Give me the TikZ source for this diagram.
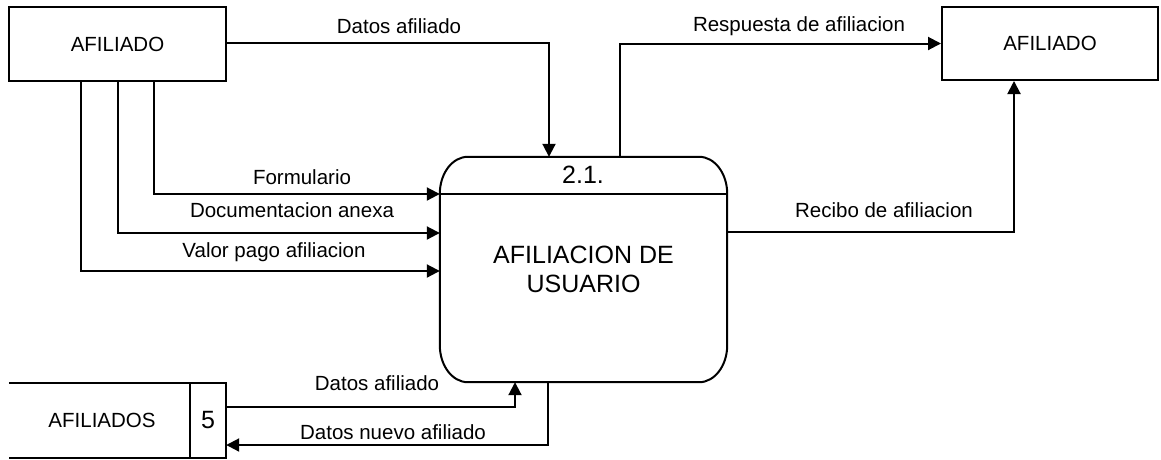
\documentclass[tikz,border=0pt]{standalone}
\usepackage{fontspec}
\setmainfont{Liberation Sans}
\usetikzlibrary{arrows.meta}
\tikzset{
  lbl/.style={inner sep=0pt, font=\fontsize{20.5}{24}\selectfont},
  entity/.style={draw, line width=2pt, inner sep=0pt, font=\fontsize{20.5}{24}\selectfont},
  procbox/.style={inner sep=0pt, align=center, font=\fontsize{25}{30}\selectfont},
  flow/.style={line width=2pt, -{Triangle[length=13pt,width=13pt]}},
  plain/.style={line width=2pt}
}
\begin{document}
\begin{tikzpicture}[x=1pt,y=-1pt]
\useasboundingbox (0,0) rectangle (1161,459);
% entities
\node[entity, minimum width=217pt, minimum height=74pt] (a1) at (117.5,44) {AFILIADO};
\node[entity, minimum width=216pt, minimum height=73pt] (a2) at (1050,43.5) {AFILIADO};
% process
\node[procbox, minimum width=287pt, minimum height=225pt] (proc) at (583.5,269.5) {AFILIACION DE\\[-1pt]USUARIO};
\draw[plain] ([xshift=28pt]proc.north west) -- ([xshift=-28pt]proc.north east)
  arc[start angle=90, end angle=0, x radius=28pt, y radius=37pt]
  -- ([yshift=37pt]proc.south east)
  arc[start angle=0, end angle=-90, x radius=28pt, y radius=37pt]
  -- ([xshift=28pt]proc.south west)
  arc[start angle=270, end angle=180, x radius=28pt, y radius=37pt]
  -- ([yshift=-37pt]proc.north west)
  arc[start angle=180, end angle=90, x radius=28pt, y radius=37pt] -- cycle;
\coordinate (pdl) at (proc.west |- 0,194);
\coordinate (pdr) at (proc.east |- 0,194);
\draw[plain] (pdl) -- (pdr);
\node[lbl, font=\fontsize{25}{30}\selectfont] (pnum) at (583,175) {2.1.};
% data store
\node[inner sep=0pt, minimum width=181pt, minimum height=75pt] (store) at (99.5,420.5) {};
\node[lbl] (storetxt) at (102,420) {AFILIADOS};
\node[inner sep=0pt, minimum width=36pt, minimum height=75pt, font=\fontsize{25}{30}\selectfont] (st5) at (208,420.5) {5};
\draw[plain] (store.north west) -- (st5.north east) -- (st5.south east) -- (store.south west);
\draw[plain] (st5.north west) -- (st5.south west);
% flows
\draw[flow] (a1.east |- 0,43) -| (549,0 |- proc.north);
\draw[flow] (154,0 |- a1.south) |- (pdl);
\draw[flow] (118,0 |- a1.south) |- (proc.west |- 0,233);
\draw[flow] (81,0 |- a1.south) |- (proc.west |- 0,271);
\draw[flow] (620,0 |- proc.north) |- (a2.west);
\draw[flow] (proc.east |- 0,232) -| (1014,0 |- a2.south);
\draw[flow] (st5.east |- 0,407) -| (515,0 |- proc.south);
\draw[flow] (548,0 |- proc.south) |- (st5.east |- 0,445);
% labels
\node[lbl] (l1) at (399,26) {Datos afiliado};
\node[lbl] (l2) at (302,177) {Formulario};
\node[lbl] (l3) at (292,210) {Documentacion anexa};
\node[lbl] (l4) at (274,252) {Valor pago afiliacion};
\node[lbl] (l5) at (799,26) {Respuesta de afiliacion};
\node[lbl] (l6) at (884,210) {Recibo de afiliacion};
\node[lbl] (l7) at (377,383) {Datos afiliado};
\node[lbl] (l8) at (393,432) {Datos nuevo afiliado};
\end{tikzpicture}
\end{document}
